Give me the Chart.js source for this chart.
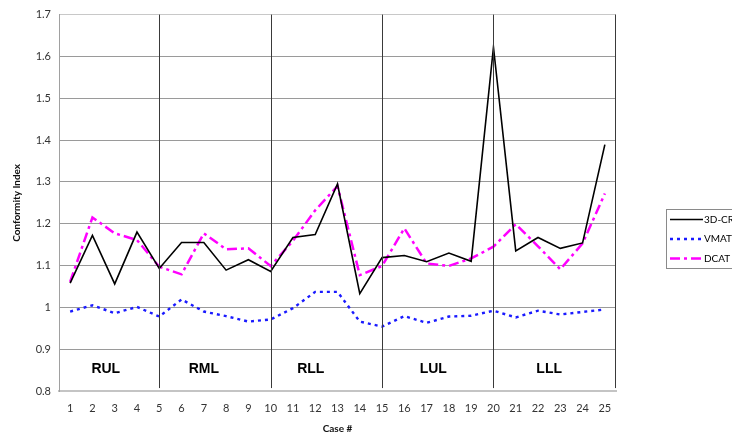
<!DOCTYPE html>
<html>
<head>
<meta charset="utf-8">
<script src="https://cdn.jsdelivr.net/npm/chart.js@4"></script>
<style>
  html, body { margin: 0; padding: 0; background: #fff; }
  #wrap { width: 732px; height: 435px; position: relative; }
</style>
</head>
<body>
<div id="wrap"><canvas id="c" width="732" height="435"></canvas></div>
<script>
// Case numbers along the x axis
const cases = ['1','2','3','4','5','6','7','8','9','10','11','12','13','14','15','16','17','18','19','20','21','22','23','24','25'];

// Conformity index per case for each planning technique
const crt3d = [1.058, 1.172, 1.056, 1.180, 1.093, 1.155, 1.155, 1.089, 1.114, 1.086, 1.167, 1.174, 1.295, 1.033, 1.119, 1.124, 1.109, 1.130, 1.110, 1.622, 1.135, 1.167, 1.141, 1.154, 1.389];
const vmat  = [0.990, 1.005, 0.986, 1.001, 0.978, 1.019, 0.990, 0.979, 0.966, 0.971, 0.998, 1.037, 1.037, 0.966, 0.954, 0.979, 0.963, 0.978, 0.980, 0.992, 0.976, 0.992, 0.983, 0.989, 0.995];
const dcat  = [1.061, 1.215, 1.177, 1.161, 1.097, 1.079, 1.177, 1.139, 1.141, 1.099, 1.159, 1.232, 1.290, 1.077, 1.099, 1.189, 1.105, 1.099, 1.117, 1.145, 1.199, 1.146, 1.091, 1.153, 1.272];

// Lobe groups: separators after these cases, and where each group name sits
const groupBreaks = [5, 10, 15, 20];
const groupNames = ['RUL', 'RML', 'RLL', 'LUL', 'LLL'];
const groupCenters = [2.6, 7.0, 11.8, 17.3, 22.5];

const seriesNames = ['3D-CRT', 'VMAT', 'DCAT'];

const styles = [
  { color: '#000000', width: 1.6, dash: [] },
  { color: '#1a1aff', width: 2.4, dash: [3, 4] },
  { color: '#ff00ff', width: 2.5, dash: [10, 4, 3, 4] }
];

const FONT = 'Lato, "Open Sans", "Liberation Sans", sans-serif';

const annotations = {
  id: 'annotations',
  afterDatasetsDraw(chart) {
    const { ctx, chartArea, scales } = chart;
    const x = scales.x, y = scales.y;
    const yEnd = y.getPixelForValue(0.807);
    ctx.save();
    // group separators
    ctx.strokeStyle = '#3a3a3a';
    ctx.lineWidth = 1;
    const sepX = groupBreaks.map(c => x.getPixelForValue(c - 1));
    sepX.push(chartArea.right - 1.5);
    sepX.forEach(px => {
      const xx = Math.round(px) + 0.5;
      ctx.beginPath();
      ctx.moveTo(xx, chartArea.top);
      ctx.lineTo(xx, yEnd);
      ctx.stroke();
    });
    // group names
    ctx.fillStyle = '#000';
    ctx.font = 'bold 14px "Liberation Sans", Arial, sans-serif';
    ctx.textAlign = 'center';
    ctx.textBaseline = 'middle';
    groupNames.forEach((n, i) => {
      ctx.fillText(n, x.getPixelForValue(groupCenters[i] - 1), y.getPixelForValue(0.853));
    });
    ctx.restore();
  },
  afterDraw(chart) {
    const { ctx } = chart;
    ctx.save();
    // legend box
    const bx = 666.5, by = 209.5, bw = 80, bh = 59;
    ctx.strokeStyle = '#8a8a8a';
    ctx.lineWidth = 1;
    ctx.strokeRect(bx, by, bw, bh);
    ctx.font = '10px ' + FONT;
    ctx.textBaseline = 'middle';
    ctx.textAlign = 'left';
    seriesNames.forEach((name, i) => {
      const ly = 219.5 + i * 19.5;
      const s = styles[i];
      ctx.strokeStyle = s.color;
      ctx.lineWidth = s.width;
      ctx.setLineDash(s.dash);
      ctx.beginPath();
      ctx.moveTo(670, ly);
      ctx.lineTo(703, ly);
      ctx.stroke();
      ctx.setLineDash([]);
      ctx.fillStyle = '#000';
      ctx.fillText(name, 704, ly);
    });
    ctx.restore();
  }
};

const makeSet = (label, data, s) => ({
  label, data,
  borderColor: s.color,
  backgroundColor: s.color,
  borderWidth: s.width,
  borderDash: s.dash,
  pointRadius: 0,
  tension: 0,
  fill: false
});

new Chart(document.getElementById('c'), {
  type: 'line',
  data: {
    labels: cases,
    datasets: [
      makeSet(seriesNames[0], crt3d, styles[0]),
      makeSet(seriesNames[1], vmat, styles[1]),
      makeSet(seriesNames[2], dcat, styles[2])
    ]
  },
  options: {
    responsive: false,
    animation: false,
    devicePixelRatio: 1,
    layout: { padding: { top: 14, right: 116, left: 0, bottom: 0 } },
    plugins: { legend: { display: false }, tooltip: { enabled: false } },
    scales: {
      x: {
        offset: true,
        grid: { display: false, drawTicks: false },
        border: { display: true, color: '#c4c4c4', width: 2 },
        ticks: { color: '#333', font: { family: FONT, size: 11 }, padding: 11, maxRotation: 0, autoSkip: false },
        title: { display: true, text: 'Case #', color: '#111', font: { family: FONT, size: 10, weight: 'bold' }, padding: { top: 0, bottom: 0 } },
        afterFit(s) { s.height = 44; }
      },
      y: {
        min: 0.8, max: 1.7,
        grid: {
          drawTicks: false,
          color: c => (c.tick && Math.abs(c.tick.value - 1.7) < 1e-6) ? '#c8c8c8' : '#9a9a9a',
          lineWidth: 1
        },
        border: { display: true, color: '#a0a0a0', width: 1 },
        ticks: {
          stepSize: 0.1,
          color: '#333',
          padding: 8,
          font: { family: FONT, size: 11 },
          callback: v => String(Math.round(v * 10) / 10)
        },
        title: { display: true, text: 'Conformity Index', color: '#111', font: { family: FONT, size: 10, weight: 'bold' }, padding: { top: 11, bottom: 0 } },
        afterFit(s) { s.width = 59; }
      }
    }
  },
  plugins: [annotations]
});
</script>
</body>
</html>
